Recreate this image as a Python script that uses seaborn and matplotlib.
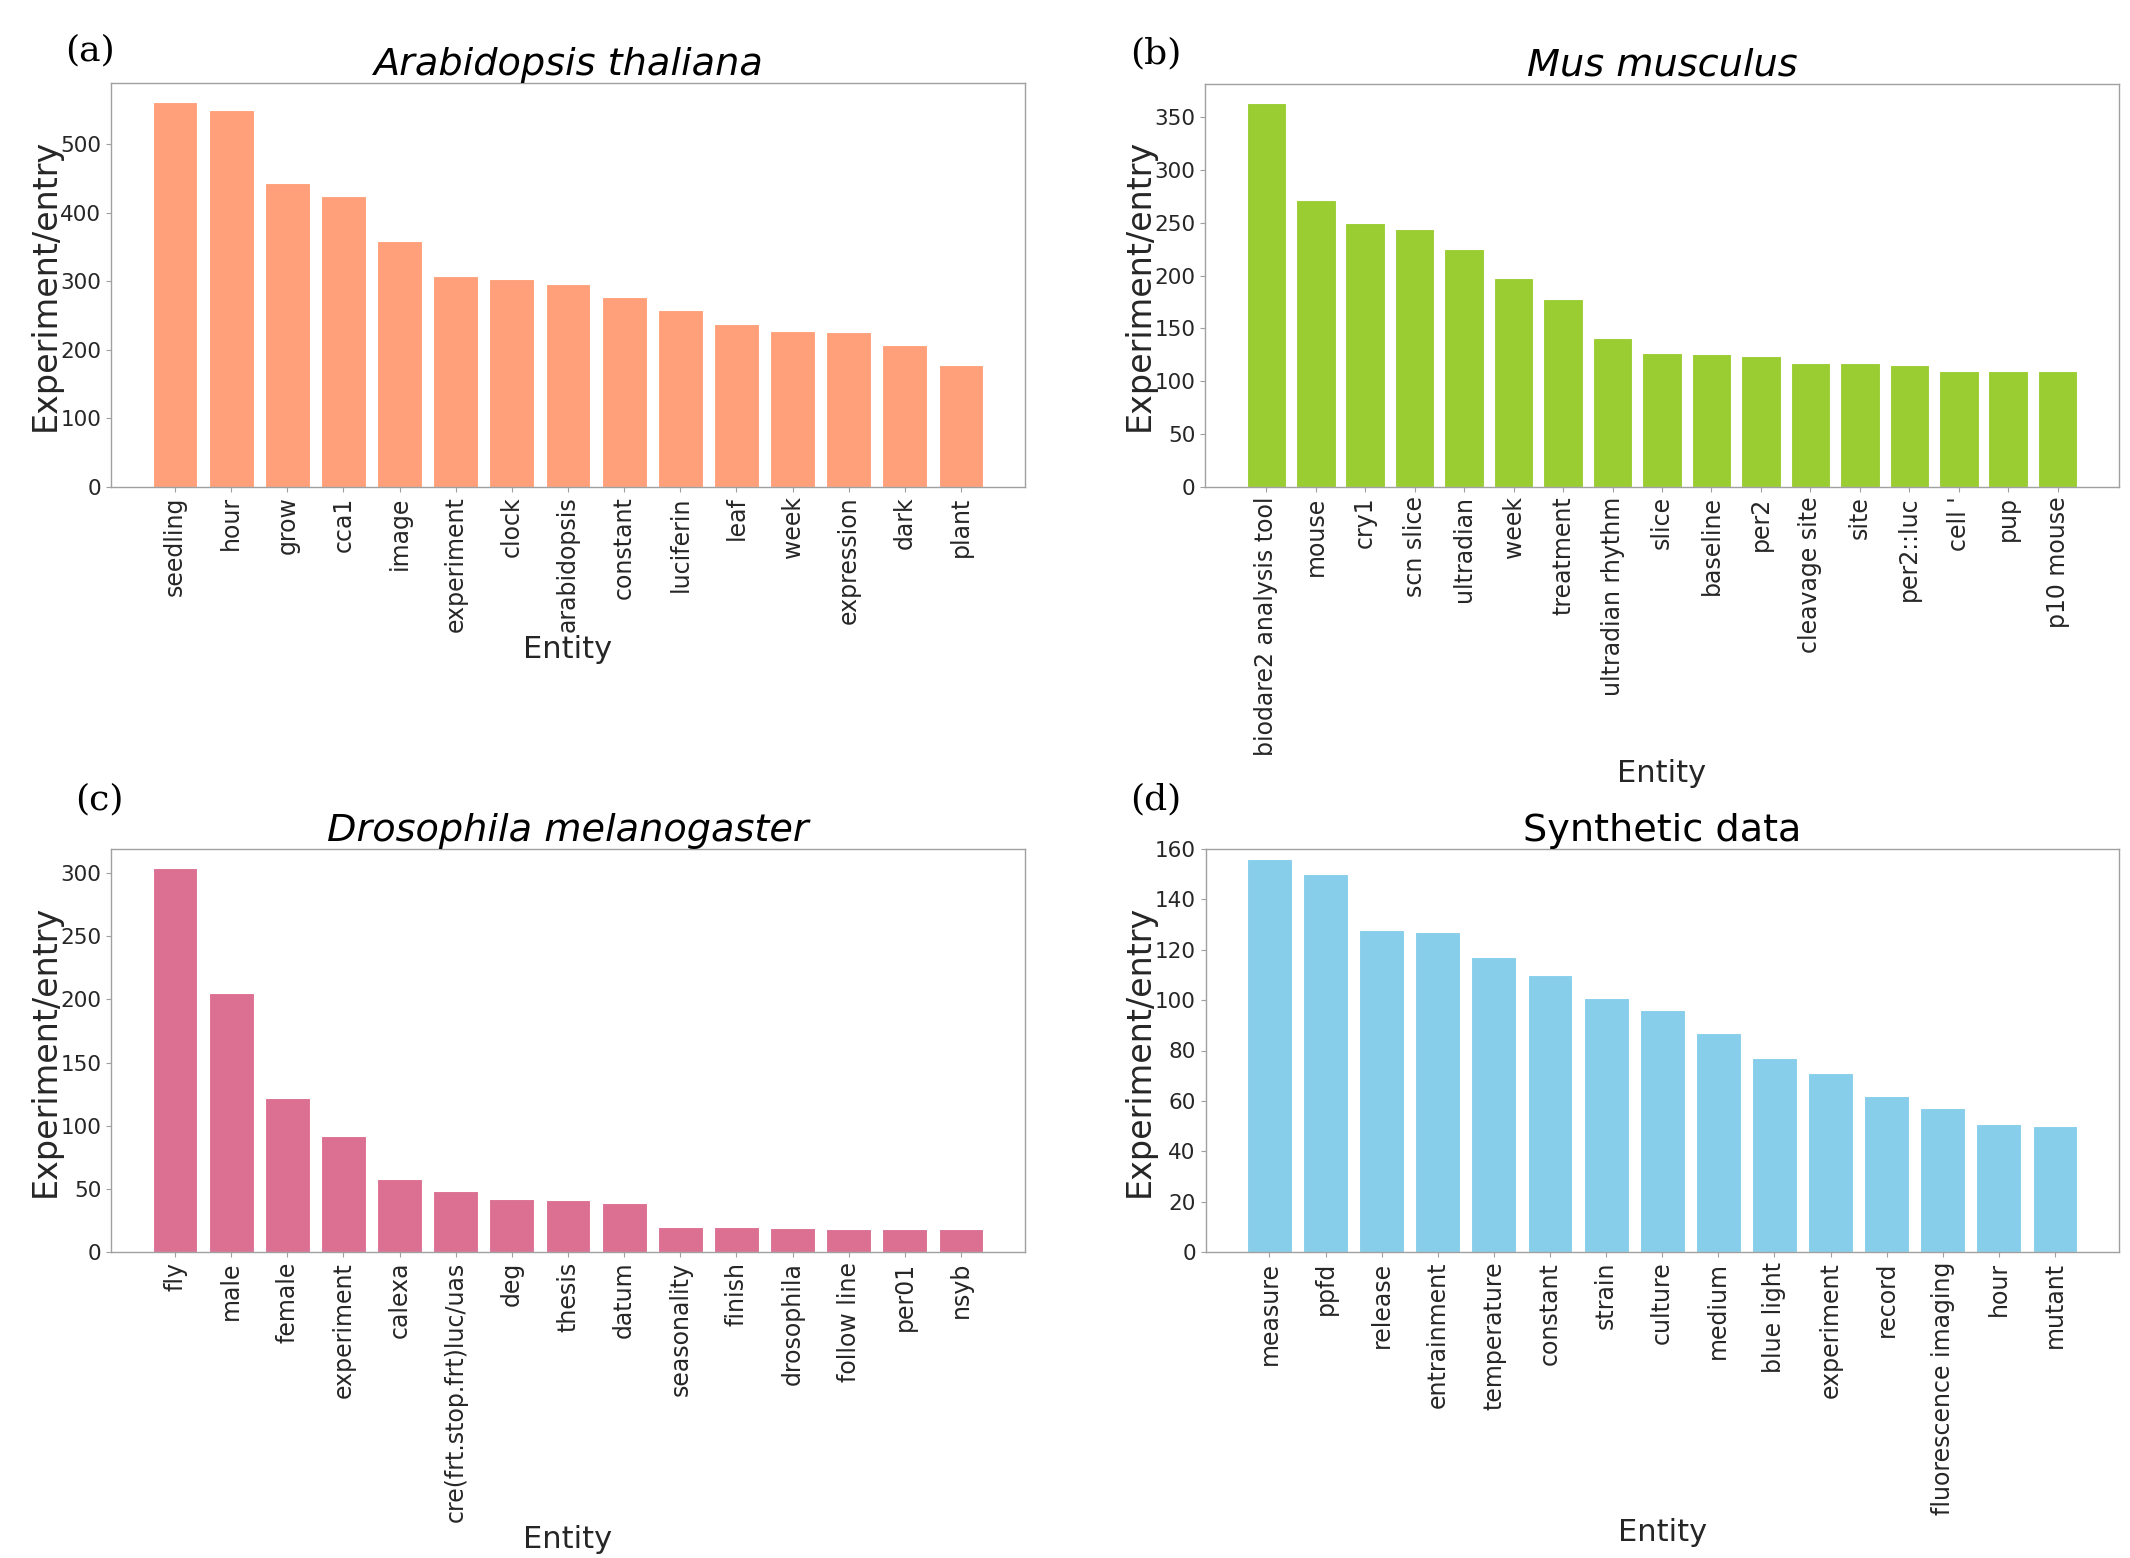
import matplotlib
matplotlib.use('Agg')
import matplotlib.pyplot as plt
import seaborn as sns

# Panel (a) Arabidopsis thaliana
arab_entities = ['seedling', 'hour', 'grow', 'cca1', 'image', 'experiment', 'clock',
                 'arabidopsis', 'constant', 'luciferin', 'leaf', 'week', 'expression',
                 'dark', 'plant']
arab_counts = [561, 550, 443, 424, 358, 307, 303, 296, 277, 258, 238, 227, 225, 206, 178]
arab_yticks = [0, 100, 200, 300, 400, 500]

# Panel (b) Mus musculus
mus_entities = ['biodare2 analysis tool', 'mouse', 'cry1', 'scn slice', 'ultradian', 'week',
                'treatment', 'ultradian rhythm', 'slice', 'baseline', 'per2', 'cleavage site',
                'site', 'per2::luc', "cell '", 'pup', 'p10 mouse']
mus_counts = [364, 272, 250, 244, 225, 198, 178, 141, 127, 126, 124, 117, 117, 115, 110, 110, 110]
mus_yticks = [0, 50, 100, 150, 200, 250, 300, 350]

# Panel (c) Drosophila melanogaster
dros_entities = ['fly', 'male', 'female', 'experiment', 'calexa', 'cre(frt.stop.frt)luc/uas',
                 'deg', 'thesis', 'datum', 'seasonality', 'finish', 'drosophila',
                 'follow line', 'per01', 'nsyb']
dros_counts = [304, 205, 122, 92, 58, 48, 42, 41, 39, 20, 20, 19, 18, 18, 18]
dros_yticks = [0, 50, 100, 150, 200, 250, 300]

# Panel (d) Synthetic data
syn_entities = ['measure', 'ppfd', 'release', 'entrainment', 'temperature', 'constant',
                'strain', 'culture', 'medium', 'blue light', 'experiment', 'record',
                'fluorescence imaging', 'hour', 'mutant']
syn_counts = [156, 150, 128, 127, 117, 110, 101, 96, 87, 77, 71, 62, 57, 51, 50]
syn_yticks = [0, 20, 40, 60, 80, 100, 120, 140, 160]

W, H = 2130, 1558
fig = plt.figure(figsize=(W / 100, H / 100), dpi=100)
fig.patch.set_facecolor('white')

spine_col = '#a0a0a0'
text_col = '#262626'


def make_panel(rect, entities, counts, yticks, color, title, italic, tag, tag_xy, ytop=None):
    left, top, right, bottom = rect
    ax = fig.add_axes([left / W, 1 - bottom / H, (right - left) / W, (bottom - top) / H])
    sns.barplot(x=entities, y=counts, ax=ax, color=color, saturation=1,
                width=0.8, edgecolor='white', linewidth=0.8)
    # same padding matplotlib's plt.bar would leave on both sides
    n = len(entities)
    m = 0.05 * (n - 0.2)
    ax.set_xlim(-0.4 - m, n - 0.6 + m)
    if ytop is not None:
        ax.set_ylim(0, ytop)
    ax.set_yticks(yticks)
    ax.tick_params(axis='x', labelsize=17, rotation=90, colors=spine_col, labelcolor=text_col)
    ax.tick_params(axis='y', labelsize=15.5, colors=spine_col, labelcolor=text_col)
    for s in ax.spines.values():
        s.set_color(spine_col)
        s.set_linewidth(1)
    ax.set_xlabel('Entity', fontsize=22, color=text_col, labelpad=2)
    ax.set_ylabel('Experiment/entry', fontsize=24, color=text_col)
    ax.yaxis.set_label_coords(-0.054, 0.5)
    ax.set_title(title, fontsize=27.5, style='italic' if italic else 'normal',
                 color='black', pad=1)
    fig.text(tag_xy[0] / W, 1 - tag_xy[1] / H, tag, fontsize=26,
             family='DejaVu Serif', ha='left', va='center', color='black')
    return ax


make_panel((111, 83, 1025, 486.6), arab_entities, arab_counts, arab_yticks,
           '#FFA07A', 'Arabidopsis thaliana', True, '(a)', (65, 50))
make_panel((1205, 83.5, 2119, 486.6), mus_entities, mus_counts, mus_yticks,
           '#9ACD32', 'Mus musculus', True, '(b)', (1130, 53))
make_panel((111, 849, 1025, 1252), dros_entities, dros_counts, dros_yticks,
           '#DB7093', 'Drosophila melanogaster', True, '(c)', (75, 799))
make_panel((1205.5, 849, 2119, 1252), syn_entities, syn_counts, syn_yticks,
           '#87CEEB', 'Synthetic data', False, '(d)', (1130, 799), ytop=160)

fig.savefig('out.png', dpi=100, facecolor='white')
